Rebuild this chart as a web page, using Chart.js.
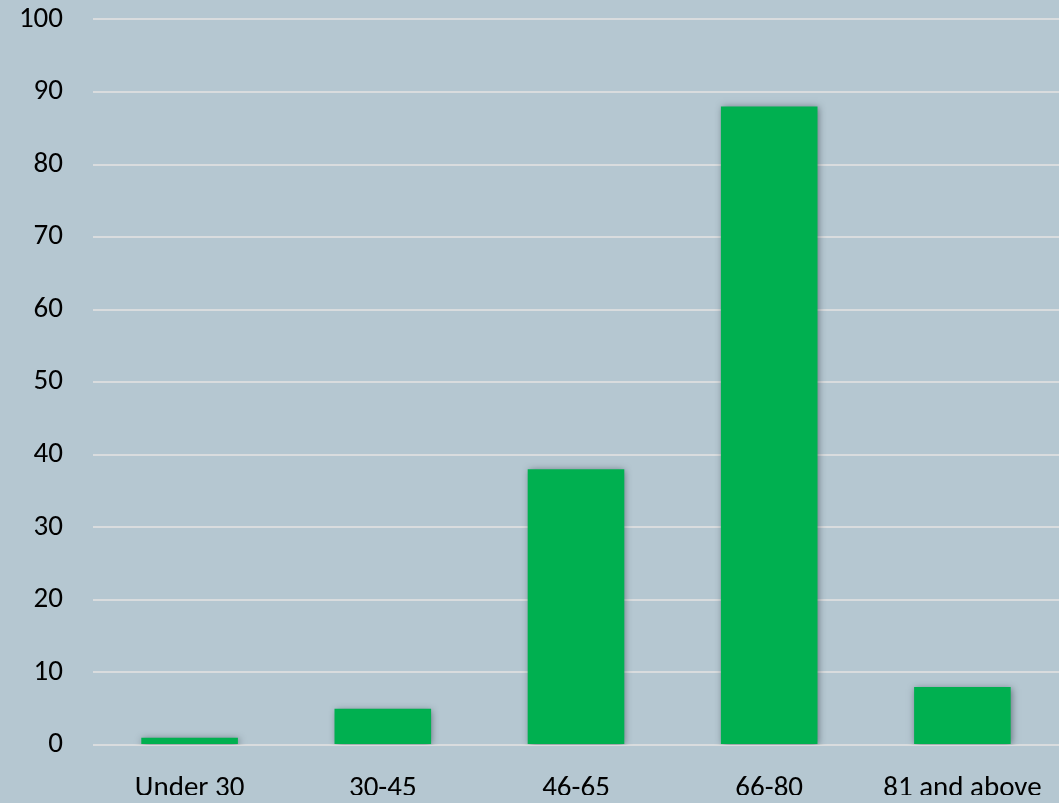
<!DOCTYPE html>
<html>
<head>
<meta charset="utf-8">
<script src="https://cdn.jsdelivr.net/npm/chart.js@4/dist/chart.umd.min.js"></script>
<style>
html,body{margin:0;padding:0;background:#B5C7D1;}
#wrap{width:1059px;height:803px;position:relative;}
</style>
</head>
<body>
<div id="wrap"><canvas id="c"></canvas></div>
<script>
const categories = ["Under 30", "30-45", "46-65", "66-80", "81 and above"];
const values = [1, 5, 38, 88, 8];
const yTicks = [0, 10, 20, 30, 40, 50, 60, 70, 80, 90, 100];

const shadowPlugin = {
  id: 'barShadow',
  beforeDatasetsDraw(chart) {
    const ctx = chart.ctx;
    ctx.save();
    ctx.shadowColor = 'rgba(40,50,60,0.55)';
    ctx.shadowBlur = 7;
    ctx.shadowOffsetX = 1;
    ctx.shadowOffsetY = 1;
  },
  afterDatasetsDraw(chart) {
    chart.ctx.restore();
  }
};

const FONT = 'Carlito, Lato, "Open Sans", sans-serif';

new Chart(document.getElementById('c'), {
  type: 'bar',
  data: {
    labels: categories,
    datasets: [{
      data: values,
      backgroundColor: '#00B050',
      borderWidth: 0,
      categoryPercentage: 1.0,
      barPercentage: 0.5
    }]
  },
  options: {
    responsive: true,
    maintainAspectRatio: false,
    animation: false,
    layout: { padding: { top: 0, right: -9, bottom: 8, left: 0 } },
    plugins: { legend: { display: false }, tooltip: { enabled: false } },
    scales: {
      x: {
        afterFit(scale) { scale.height = 50; scale.paddingLeft = 0; scale.paddingRight = 0; },
        grid: { display: false, drawTicks: false },
        border: { display: false },
        ticks: { color: '#000', font: { family: FONT, size: 29 }, padding: 26, maxRotation: 0 }
      },
      y: {
        min: 0, max: 100,
        afterBuildTicks(scale) { scale.ticks = yTicks.map(v => ({ value: v })); },
        afterFit(scale) { scale.width = 93; },
        grid: { color: '#D9DCDE', lineWidth: 2, drawTicks: true, tickLength: 28, tickColor: 'rgba(0,0,0,0)' },
        border: { display: false },
        ticks: { color: '#000', font: { family: FONT, size: 29 }, padding: 2 }
      }
    }
  },
  plugins: [shadowPlugin]
});
</script>
</body>
</html>
